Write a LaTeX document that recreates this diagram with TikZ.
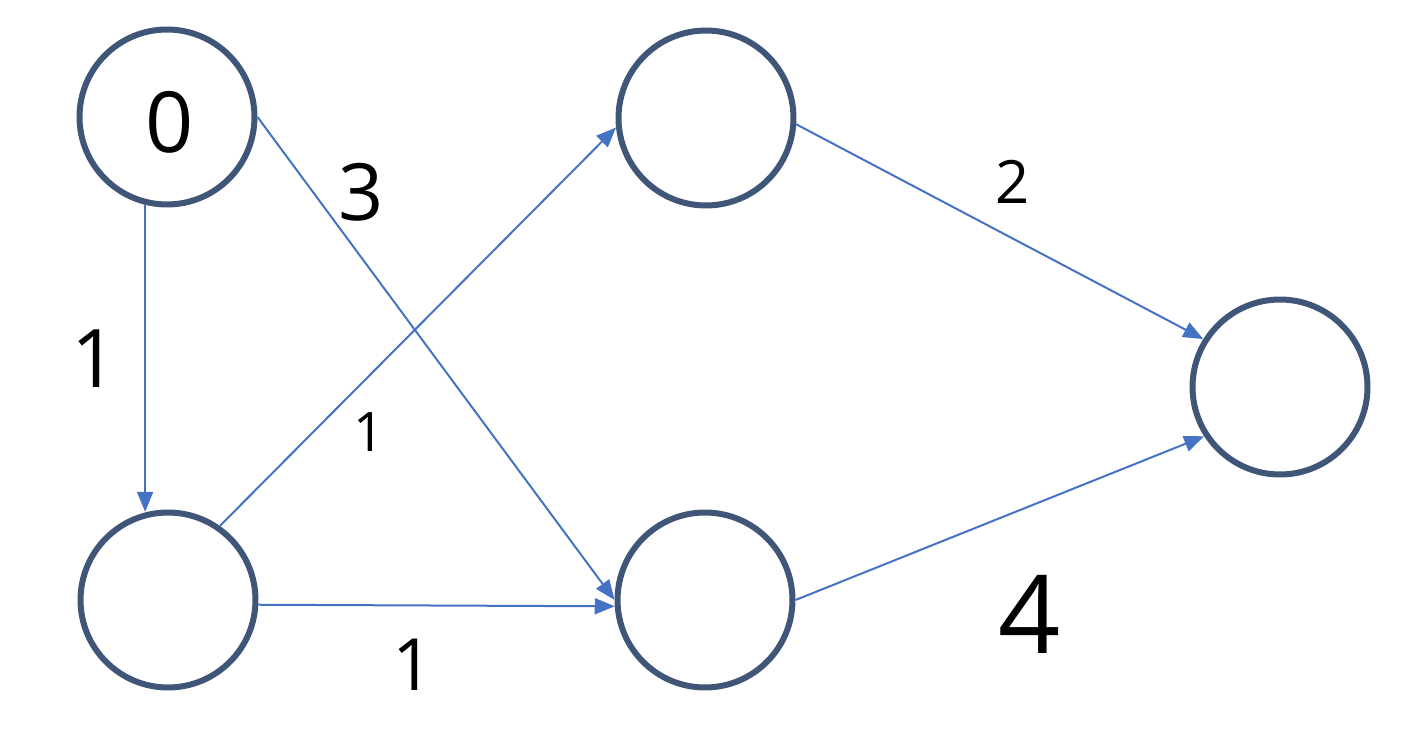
\documentclass[tikz,border=0pt]{standalone}
\usepackage{fontspec}
\setmainfont{Open Sans}
\usepackage{xcolor}
\usetikzlibrary{arrows.meta}

\definecolor{ringblue}{RGB}{64,86,120}
\definecolor{edgeblue}{HTML}{4472C4}
\newcommand{\handsize}[1]{\fontsize{#1}{#1}\selectfont}

\begin{document}
\begin{tikzpicture}[x=0.02cm, y=-0.02cm,
    vertex/.style={circle, draw=ringblue, line width=0.12cm, minimum size=3.5cm, inner sep=0pt},
    edge/.style={draw=edgeblue, line width=0.04cm, -{Triangle[length=0.4cm, width=0.32cm]}},
    wlabel/.style={black, inner sep=0pt, anchor=center}]
      \useasboundingbox (0,0) rectangle (1408,756);

      % --- vertices, placed at the pixel positions of the sketch ---
      \node[vertex] (s) at (167,117) {};
      \node[vertex] (b) at (706,118) {};
      \node[vertex] (a) at (168,600) {};
      \node[vertex] (c) at (705,600) {};
      \node[vertex] (t) at (1280,387) {};

      % --- the 0 written inside the start vertex ---
      \node[wlabel, font=\handsize{48pt}] (w0) at (170,122) {0};

      % --- edges (drawn from border anchors, not from centres) ---
      \draw[edge] (s.256) -- (s.256 |- a.103);
      \draw[edge] (s.0) -- (c.180);
      \draw[edge] (a.55) -- (b.186);
      \draw[edge] (a.357) -- (c.184);
      \draw[edge] (b.356) -- (t.148);
      \draw[edge] (c.0) -- (t.213);

      % --- weights next to the edges ---
      \node[wlabel, font=\handsize{46pt}] (wsa) at (95,359) {1};
      \node[wlabel, font=\handsize{45pt}] (wsc) at (361,192) {3};
      \node[wlabel, font=\handsize{31pt}] (wab) at (369,432) {1};
      \node[wlabel, font=\handsize{41pt}] (wac) at (413,665) {1};
      \node[wlabel, font=\handsize{34pt}] (wbt) at (1013,182) {2};
      \node[wlabel, font=\handsize{62pt}] (wct) at (1030,614) {4};
    \end{tikzpicture}
\end{document}
